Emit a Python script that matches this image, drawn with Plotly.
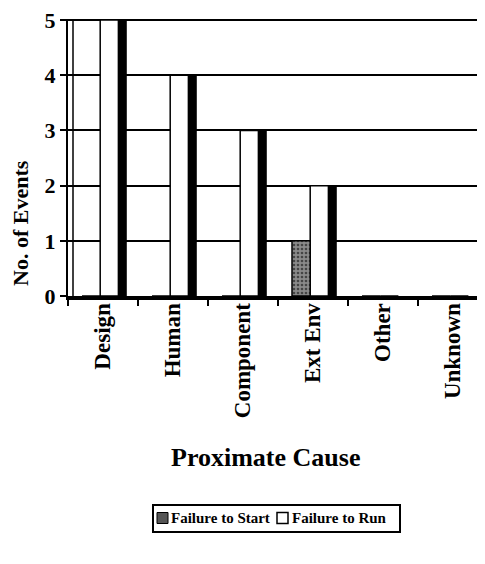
import plotly.graph_objects as go

categories = ["Design", "Human", "Component", "Ext Env", "Other", "Unknown"]
failure_to_start = [0, 0, 0, 1, 0, 0]
failure_to_run = [5, 4, 3, 2, 0, 0]
y_ticks = [0, 1, 2, 3, 4, 5]
series_names = ["Failure to Start", "Failure to Run"]

FONT = "Liberation Serif"
W, H = 485, 564
OFF = 8  # default page body margin of the html page
ML, MR, MT, MB = 60, 5, 11, 276
PH = H - MT - MB
PW = W - ML - MR

def px_x(page_x):
    return (page_x - OFF - ML) / PW

def px_y(page_y):
    return (H - MB - (page_y - OFF)) / PH

FTS_PATTERN = dict(shape=".", fgcolor="black", bgcolor="#8a8a8a", size=4, solidity=0.35)

fig = go.Figure()

# dark 3D side of "Failure to Run" bars
fig.add_trace(go.Bar(
    x=categories, y=failure_to_run, offset=0.01, width=0.33,
    marker=dict(color="black", line=dict(width=0)),
    showlegend=False, hoverinfo="skip"))
# front face "Failure to Run"
fig.add_trace(go.Bar(
    x=categories, y=failure_to_run, name=series_names[1],
    offset=-0.04, width=0.26,
    marker=dict(color="white", line=dict(color="black", width=1.5)),
    showlegend=False))
# "Failure to Start"
fig.add_trace(go.Bar(
    x=categories, y=failure_to_start, name=series_names[0],
    offset=-0.3, width=0.26,
    marker=dict(color="#6e6e6e", line=dict(color="black", width=1.5),
                pattern=FTS_PATTERN),
    showlegend=False))

# legend drawn as a boxed key below the chart
LEG_T, LEG_B = 505, 532
leg_mid = (LEG_T + LEG_B) / 2
shapes = [
    dict(type="line", xref="paper", yref="paper",
         x0=px_x(73), x1=px_x(73), y0=0, y1=1,
         line=dict(color="black", width=1.5)),
    dict(type="rect", xref="paper", yref="paper",
         x0=px_x(153), x1=px_x(400), y0=px_y(LEG_T), y1=px_y(LEG_B),
         line=dict(color="black", width=2), fillcolor="white"),
    dict(type="rect", xref="paper", yref="paper",
         x0=px_x(157), x1=px_x(168), y0=px_y(leg_mid - 6), y1=px_y(leg_mid + 5),
         line=dict(color="black", width=1), fillcolor="#555555"),
    dict(type="rect", xref="paper", yref="paper",
         x0=px_x(277), x1=px_x(288), y0=px_y(leg_mid - 6), y1=px_y(leg_mid + 5),
         line=dict(color="black", width=1.5), fillcolor="white"),
]

annotations = [
    dict(text="Proximate Cause", xref="paper", yref="paper",
         x=px_x(265), y=px_y(458), xanchor="center", yanchor="middle",
         showarrow=False,
         font=dict(family=FONT, size=26, weight="bold", color="black")),
    dict(text="No. of Events", xref="paper", yref="paper",
         x=px_x(20), y=px_y(223), xanchor="center", yanchor="middle",
         textangle=-90, showarrow=False,
         font=dict(family=FONT, size=22, weight="bold", color="black")),
    dict(text=series_names[0], xref="paper", yref="paper",
         x=px_x(169), y=px_y(leg_mid), xanchor="left", yanchor="middle",
         showarrow=False,
         font=dict(family=FONT, size=15, weight="bold", color="black")),
    dict(text=series_names[1], xref="paper", yref="paper",
         x=px_x(290), y=px_y(leg_mid), xanchor="left", yanchor="middle",
         showarrow=False,
         font=dict(family=FONT, size=15, weight="bold", color="black")),
]

fig.update_layout(
    width=W, height=H,
    margin=dict(l=ML, r=MR, t=MT, b=MB, autoexpand=False),
    paper_bgcolor="white", plot_bgcolor="white",
    barmode="overlay",
    font=dict(family=FONT, color="black"),
    showlegend=False,
    xaxis=dict(
        categoryorder="array", categoryarray=categories,
        range=[-0.5, 5.5], automargin=False,
        tickangle=-90, tickson="boundaries",
        ticks="outside", ticklen=6, tickwidth=2, tickcolor="black",
        ticklabelstandoff=-6,
        tickfont=dict(family=FONT, size=23, weight="bold", color="black"),
        showline=True, linecolor="black", linewidth=4,
        showgrid=False, zeroline=False, fixedrange=True),
    yaxis=dict(
        range=[0, 5.02], tickvals=y_ticks, automargin=False,
        ticks="outside", ticklen=6, tickwidth=2, tickcolor="black",
        ticklabeloverflow="allow",
        tickfont=dict(family=FONT, size=22, weight="bold", color="black"),
        showline=True, linecolor="black", linewidth=2,
        showgrid=True, gridcolor="black", gridwidth=2,
        zeroline=False, fixedrange=True),
    annotations=annotations,
    shapes=shapes,
)

fig.write_html("out.html")
